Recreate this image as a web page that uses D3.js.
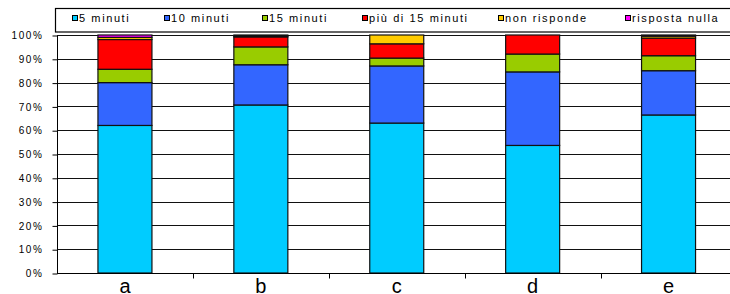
<!DOCTYPE html>
<html><head><meta charset="utf-8">
<script src="https://cdn.jsdelivr.net/npm/d3@7"></script>
<style>body{margin:0;background:#fff;overflow:hidden}svg{display:block}text{font-family:Arial,"Liberation Sans",sans-serif}</style>
</head><body><svg id="c" width="730" height="294"></svg>
<script>
const categories = ["a","b","c","d","e"];
const seriesNames = ["5 minuti","10 minuti","15 minuti","più di 15 minuti","non risponde","risposta nulla"];
const s5 = [62.0, 70.6, 63.0, 53.6, 66.4];
const s10 = [18.0, 16.9, 24.0, 30.9, 18.6];
const s15 = [5.6, 7.5, 3.3, 7.5, 6.3];
const sMore = [12.5, 4.2, 6.0, 8.0, 7.4];
const sNone = [0.9, 0.4, 3.7, 0.0, 0.8];
const sNull = [1.0, 0.4, 0.0, 0.0, 0.5];
const yTicks = [0,10,20,30,40,50,60,70,80,90,100];
const colors = ["#00CCFF","#3366FF","#99CC00","#FF0000","#FFCC00","#FF00FF"];

const allSeries = [s5,s10,s15,sMore,sNone,sNull];
const rows = categories.map((c,i)=>{const r={cat:c}; seriesNames.forEach((n,j)=>r[n]=allSeries[j][i]); return r;});
const stacked = d3.stack().keys(seriesNames)(rows);

const svg = d3.select("#c");
const left = 57, step = 135.9;
const x = d3.scaleBand().domain(categories).range([left, left + step*categories.length]).padding(0);
const y = d3.scaleLinear().domain([0,100]).range([273,35]);
const barW = 54;

// gridlines
svg.append("g").selectAll("line").data(yTicks).join("line")
  .attr("x1",left).attr("x2",740)
  .attr("y1",d=>Math.round(y(d))+0.5).attr("y2",d=>Math.round(y(d))+0.5)
  .attr("stroke","#111").attr("stroke-width",1);

// bars
svg.append("g").selectAll("g").data(stacked).join("g")
  .attr("fill",(d,i)=>colors[i])
  .selectAll("rect").data(d=>d).join("rect")
  .attr("x",d=>x(d.data.cat)+(step-barW)/2)
  .attr("width",barW)
  .attr("y",d=>y(d[1]))
  .attr("height",d=>Math.max(0,y(d[0])-y(d[1])))
  .attr("stroke","#111").attr("stroke-width",d=>(d[1]-d[0])>0?1.2:0);

// y axis
const yAxis = d3.axisLeft(y).tickValues(yTicks).tickFormat(d=>d+"%").tickSize(5).tickPadding(9);
const ya = svg.append("g").attr("transform",`translate(${left+0.5},0.5)`).call(yAxis);
ya.select(".domain").attr("stroke","#000").attr("d",`M0,${y(100)}V${y(0)}`);
ya.selectAll(".tick line").attr("stroke","#000");
ya.selectAll(".tick text").attr("font-size","10px").attr("letter-spacing","1.6px").attr("fill","#000").attr("font-family","Arial, 'Liberation Sans', sans-serif");

// x axis
const xa = svg.append("g").attr("transform",`translate(0,${Math.round(y(0))+0.5})`);
xa.append("line").attr("x1",left).attr("x2",740).attr("stroke","#000");
xa.selectAll(".tk").data(categories.slice(1)).join("line").attr("class","tk")
  .attr("x1",d=>Math.round(x(d))+0.5).attr("x2",d=>Math.round(x(d))+0.5)
  .attr("y1",0).attr("y2",5).attr("stroke","#000");
xa.selectAll("text").data(categories).join("text")
  .attr("x",d=>x(d)+step/2).attr("y",19).attr("text-anchor","middle")
  .attr("font-size","20px").attr("fill","#000").text(d=>d);

// legend
const lg = svg.append("g");
lg.append("rect").attr("x",55.5).attr("y",8.5).attr("width",700).attr("height",23.5)
  .attr("fill","#fff").attr("stroke","#000").attr("stroke-width",1.2);
const legX = [72,164,262,362,498,625];
const li = lg.selectAll("g.li").data(seriesNames).join("g").attr("class","li")
  .attr("transform",(d,i)=>`translate(${legX[i]},0)`);
li.append("rect").attr("x",0.5).attr("y",15.5).attr("width",5).attr("height",5)
  .attr("fill",(d,i)=>colors[i]).attr("stroke","#000").attr("stroke-width",1);
li.append("text").attr("x",7).attr("y",21.5).attr("font-size","11px").attr("letter-spacing","1.6px")
  .attr("fill","#000").text(d=>d);
</script></body></html>
